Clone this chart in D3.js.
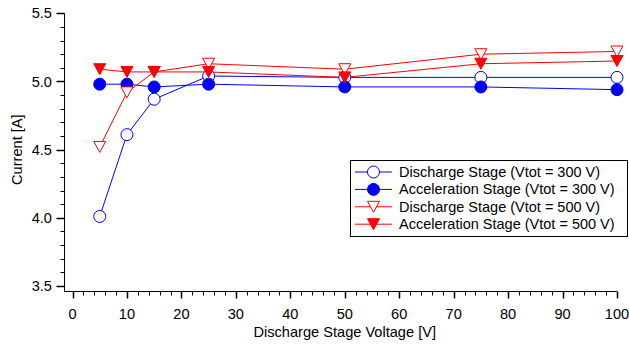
<!DOCTYPE html>
<html><head><meta charset="utf-8">
<script src="https://cdn.jsdelivr.net/npm/d3@7"></script>
<style>body{margin:0;background:#fff}svg{display:block}text{font-family:"Liberation Sans",Arial,sans-serif;fill:#000}</style>
</head><body>
<svg id="c" width="629" height="345"></svg>
<script>
const voltages = [5, 10, 15, 25, 50, 75, 100];
const discharge300 = [4.01, 4.61, 4.87, 5.04, 5.03, 5.03, 5.03];
const accel300 = [4.98, 4.98, 4.96, 4.98, 4.96, 4.96, 4.94];
const discharge500 = [4.52, 4.92, 5.07, 5.13, 5.09, 5.20, 5.22];
const accel500 = [5.09, 5.07, 5.07, 5.07, 5.03, 5.13, 5.15];
const seriesNames = ["Discharge Stage (Vtot = 300 V)", "Acceleration Stage (Vtot = 300 V)", "Discharge Stage (Vtot = 500 V)", "Acceleration Stage (Vtot = 500 V)"];
const xTicks = [0,10,20,30,40,50,60,70,80,90,100];
const yTicks = [3.5,4.0,4.5,5.0,5.5];

const series = [
  {name: seriesNames[0], values: discharge300, color: "#0000ff", shape: "circle", filled: false},
  {name: seriesNames[1], values: accel300, color: "#0000ff", shape: "circle", filled: true},
  {name: seriesNames[2], values: discharge500, color: "#ff0000", shape: "tri", filled: false},
  {name: seriesNames[3], values: accel500, color: "#ff0000", shape: "tri", filled: true}
];

const svg = d3.select("#c");
const x = d3.scaleLinear().domain([0, 100]).range([72.5, 617]);
const y = d3.scaleLinear().domain([3.5, 5.5]).range([286, 13.3]);
const axisX0 = 64.5, axisY0 = 291.5;
const fs = 14.6;

// y axis
const gy = svg.append("g");
gy.append("line").attr("x1", axisX0).attr("x2", axisX0).attr("y1", y(5.5)).attr("y2", axisY0).attr("stroke", "#000");
const yMinor = d3.range(35, 56).map(d => d / 10);
gy.selectAll("line.m").data(yMinor).join("line")
  .attr("x1", axisX0).attr("x2", d => (Math.round(d*10) % 5 === 0) ? axisX0 - 8 : axisX0 - 4)
  .attr("y1", d => Math.round(y(d)) + 0.5).attr("y2", d => Math.round(y(d)) + 0.5)
  .attr("stroke", "#000").attr("stroke-width", d => (Math.round(d*10) % 5 === 0) ? 1.5 : 1);
gy.selectAll("text").data(yTicks).join("text")
  .attr("x", axisX0 - 12.5).attr("y", d => y(d)).attr("dy", "0.35em")
  .attr("text-anchor", "end").attr("font-size", fs).text(d => d3.format(".1f")(d));

// x axis
const gx = svg.append("g");
gx.append("line").attr("x1", axisX0).attr("x2", x(100)).attr("y1", axisY0).attr("y2", axisY0).attr("stroke", "#000");
const xMinor = d3.range(0, 101, 2);
gx.selectAll("line.m").data(xMinor).join("line")
  .attr("x1", d => Math.round(x(d)) + 0.5).attr("x2", d => Math.round(x(d)) + 0.5)
  .attr("y1", axisY0).attr("y2", d => d % 10 === 0 ? axisY0 + 7 : axisY0 + 4)
  .attr("stroke", "#000").attr("stroke-width", d => d % 10 === 0 ? 1.5 : 1);
gx.selectAll("text").data(xTicks).join("text")
  .attr("x", d => x(d)).attr("y", 313.5).attr("dy", "0.35em")
  .attr("text-anchor", "middle").attr("font-size", fs).text(d => d);

svg.append("text").attr("x", x(50)).attr("y", 331.5).attr("dy", "0.35em")
  .attr("text-anchor", "middle").attr("font-size", fs).text("Discharge Stage Voltage [V]");
svg.append("text").attr("transform", `translate(17,${y(4.5)}) rotate(-90)`).attr("dy", "0.35em")
  .attr("text-anchor", "middle").attr("font-size", fs).text("Current [A]");

function marker(g, s, cx, cy) {
  if (s.shape === "circle") {
    g.append("circle").attr("cx", cx).attr("cy", cy).attr("r", 6)
      .attr("fill", s.filled ? s.color : "#fff").attr("stroke", s.color).attr("stroke-width", 1);
  } else {
    const w = 6, h = 11;
    g.append("path").attr("d", `M${cx - w},${cy - h/2}L${cx + w},${cy - h/2}L${cx},${cy + h/2}Z`)
      .attr("fill", s.filled ? s.color : "#fff").attr("stroke", s.color).attr("stroke-width", 1);
  }
}

const line = d3.line().x(d => x(d[0])).y(d => y(d[1]));
series.forEach(s => {
  const pts = voltages.map((v, i) => [v, s.values[i]]);
  svg.append("path").attr("d", line(pts)).attr("fill", "none").attr("stroke", s.color).attr("stroke-width", 1);
});
series.forEach(s => {
  const g = svg.append("g");
  voltages.forEach((v, i) => marker(g, s, x(v), y(s.values[i])));
});

// legend
const lg = svg.append("g");
lg.append("rect").attr("x", 350.5).attr("y", 160.5).attr("width", 277).attr("height", 76)
  .attr("fill", "#fff").attr("stroke", "#000").attr("stroke-width", 1);
series.forEach((s, i) => {
  const cy = 172 + i * 17.4;
  lg.append("line").attr("x1", 355).attr("x2", 392).attr("y1", cy).attr("y2", cy).attr("stroke", s.color);
  marker(lg, s, 373.5, cy);
  lg.append("text").attr("x", 399).attr("y", cy).attr("dy", "0.35em").attr("font-size", 14.5).text(s.name);
});
</script>
</body></html>
